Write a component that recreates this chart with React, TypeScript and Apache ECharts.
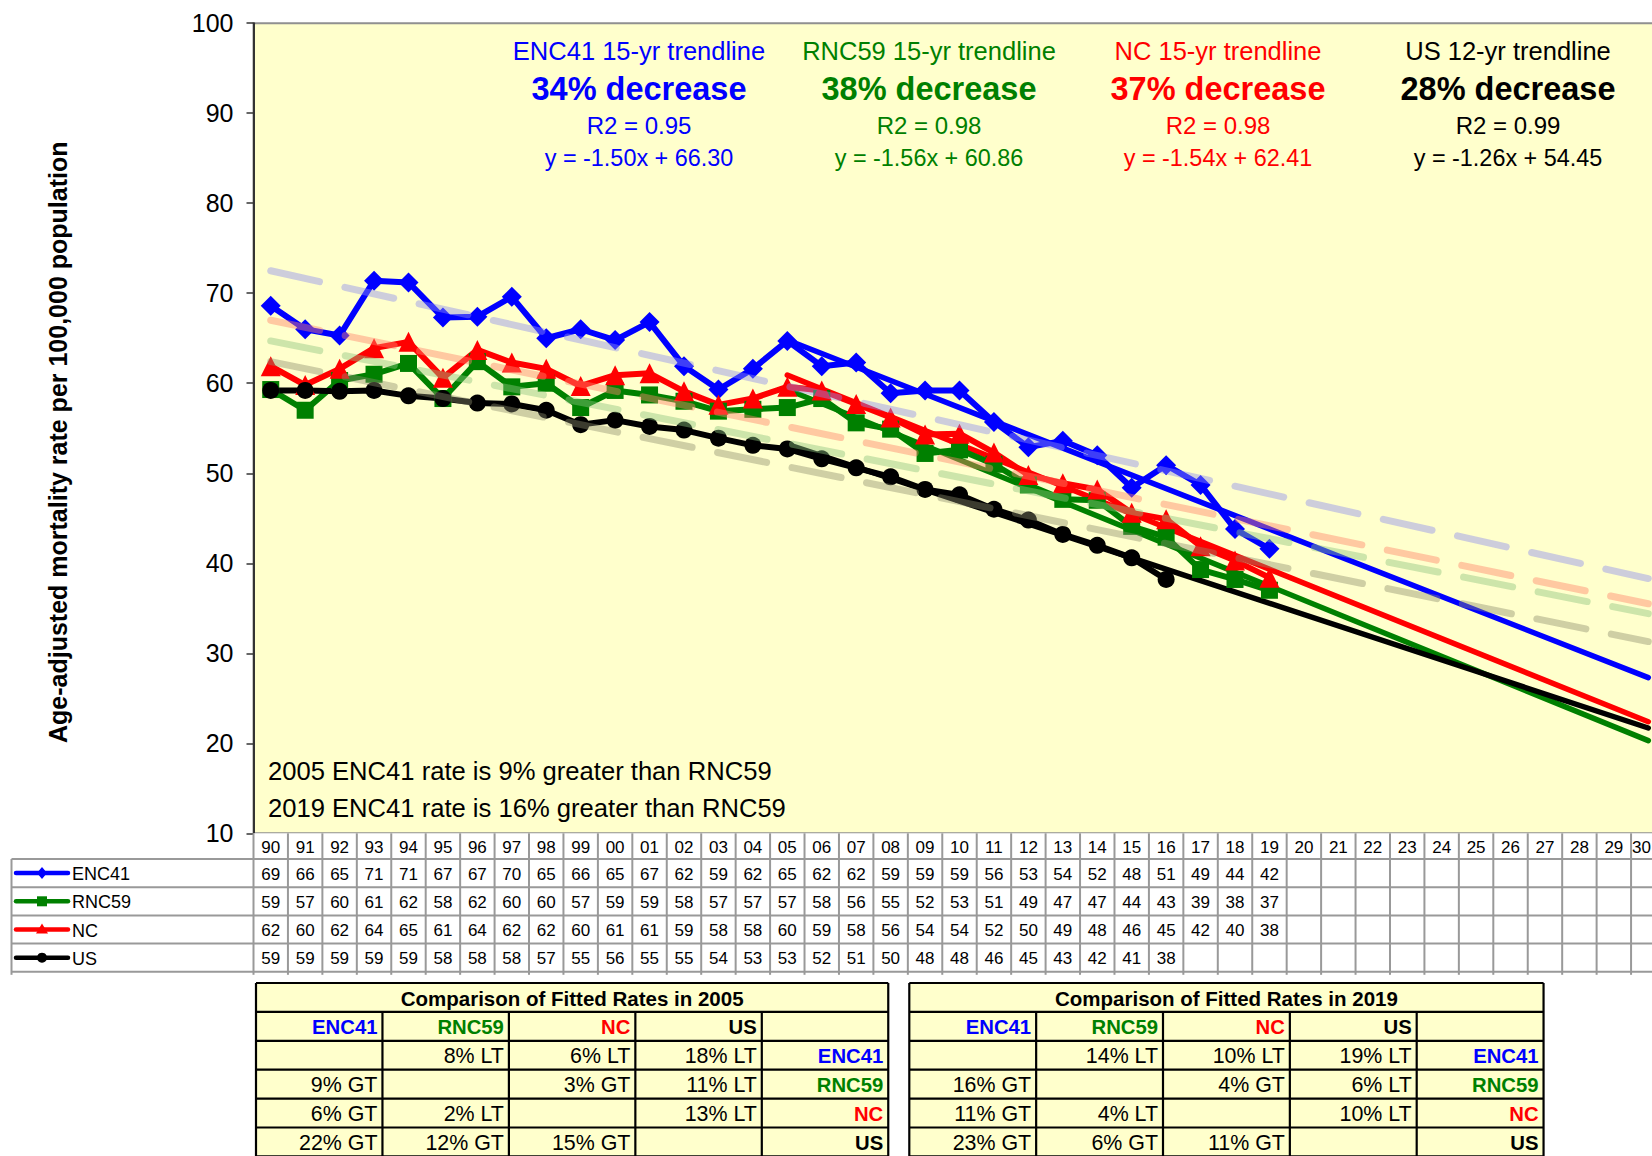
import React, { useEffect, useRef } from 'react';
import * as echarts from 'echarts';

const FONT = "'Liberation Sans', Arial, Helvetica, sans-serif";

// ---- categories (two-digit years 1990..2030) ----
const years = [
  '90','91','92','93','94','95','96','97','98','99',
  '00','01','02','03','04','05','06','07','08','09',
  '10','11','12','13','14','15','16','17','18','19',
  '20','21','22','23','24','25','26','27','28','29','30',
];

// ---- series values (age-adjusted mortality rate) ----
const enc41 = [68.6,66.0,65.3,71.4,71.2,67.3,67.4,69.6,65.0,66.0,64.8,66.8,61.9,59.3,61.6,64.7,61.9,62.3,58.9,59.2,59.2,55.7,52.9,53.6,52.0,48.4,50.9,48.7,43.8,41.6];
const rnc59 = [59.3,57.0,60.3,61.0,62.2,58.3,62.4,59.6,60.0,57.3,59.2,58.7,58.0,56.9,57.1,57.3,58.3,55.6,54.9,52.2,52.6,51.0,48.7,47.1,47.0,44.1,42.9,39.3,38.2,37.0];
const ncVals = [61.9,59.8,61.6,63.9,64.6,60.6,63.7,62.3,61.6,59.7,60.9,61.1,59.1,57.6,58.3,59.6,59.2,57.7,56.2,54.3,54.4,52.3,49.8,48.9,48.2,45.6,44.9,41.9,40.3,38.4];
const usVals = [59.2,59.2,59.1,59.2,58.6,58.3,57.8,57.7,57.0,55.4,55.9,55.2,54.8,53.9,53.1,52.7,51.6,50.6,49.6,48.2,47.6,46.0,44.8,43.2,42.0,40.6,38.2];

// ---- short-term trendlines: [startYear, startValue, endYear, endValue] ----
const enc41Trend = ['05', 64.8, '30', 27.3];
const rnc59Trend = ['05', 59.3, '30', 20.3];
const ncTrend = ['05', 60.9, '30', 22.4];
const usTrend = ['05', 53.2, '30', 21.7];

// ---- long-term dashed trendlines ----
const enc41Long = ['90', 72.5, '30', 38.3];
const rnc59Long = ['90', 64.7, '30', 34.4];
const ncLong = ['90', 67.0, '30', 35.5];
const usLong = ['90', 62.4, '30', 31.3];

// ---- y axis ----
const yMin = 10;
const yMax = 100;
const yStep = 10;

// ---- labels ----
const seriesNames = ['ENC41', 'RNC59', 'NC', 'US'];
const seriesColors = ['#0000FF', '#008000', '#FF0000', '#000000'];
const trendTitles = ['ENC41 15-yr trendline', 'RNC59 15-yr trendline', 'NC 15-yr trendline', 'US 12-yr trendline'];
const trendDecrease = ['34% decrease', '38% decrease', '37% decrease', '28% decrease'];
const trendR2 = ['R2 = 0.95', 'R2 = 0.98', 'R2 = 0.98', 'R2 = 0.99'];
const trendEq = ['y = -1.50x + 66.30', 'y = -1.56x + 60.86', 'y = -1.54x + 62.41', 'y = -1.26x + 54.45'];
const noteLines = ['2005 ENC41 rate is 9% greater than RNC59', '2019 ENC41 rate is 16% greater than RNC59'];
const yTitle = 'Age-adjusted mortality rate per 100,000 population';

const cmpTitle2005 = 'Comparison of Fitted Rates in 2005';
const cmpTitle2019 = 'Comparison of Fitted Rates in 2019';
const cmp2005 = [
  ['', '8% LT', '6% LT', '18% LT'],
  ['9% GT', '', '3% GT', '11% LT'],
  ['6% GT', '2% LT', '', '13% LT'],
  ['22% GT', '12% GT', '15% GT', ''],
];
const cmp2019 = [
  ['', '14% LT', '10% LT', '19% LT'],
  ['16% GT', '', '4% GT', '6% LT'],
  ['11% GT', '4% LT', '', '10% LT'],
  ['23% GT', '6% GT', '11% GT', ''],
];

function pair(t: (string | number)[]) {
  return [
    [years.indexOf(t[0] as string), t[1] as number],
    [years.indexOf(t[2] as string), t[3] as number],
  ];
}

function txt(x: number, y: number, text: string, o: any = {}) {
  const align = o.align || 'left';
  const va = o.va || 'middle';
  return {
    type: 'text',
    x,
    y,
    rotation: o.rotation || 0,
    z: 10,
    style: {
      text,
      fill: o.color || '#000',
      fontSize: o.size || 16,
      fontWeight: o.weight || 'normal',
      fontFamily: FONT,
      align,
      verticalAlign: va,
      textAlign: align,
      textVerticalAlign: va,
    },
  };
}

function ln(x1: number, y1: number, x2: number, y2: number, color: string, w: number) {
  return { type: 'line', z: 5, shape: { x1, y1, x2, y2 }, style: { stroke: color, lineWidth: w } };
}

function buildGraphic(chart: any) {
  const els: any[] = [];
  const xs = years.map((_, i) => chart.convertToPixel({ xAxisIndex: 0 }, i) as number);
  const bw = xs[1] - xs[0];
  const plotLeft = xs[0] - bw / 2;
  const plotRight = xs[xs.length - 1] + bw / 2;
  const plotBottom = chart.convertToPixel({ yAxisIndex: 0 }, yMin) as number;
  const plotTop = chart.convertToPixel({ yAxisIndex: 0 }, yMax) as number;

  // y-axis title
  els.push(txt(58, (plotTop + plotBottom) / 2 + 14, yTitle, { align: 'center', size: 25, weight: 'bold', rotation: Math.PI / 2 }));

  // trend annotations
  const annX = [639, 929, 1218, 1508];
  annX.forEach((x, i) => {
    const c = seriesColors[i];
    els.push(txt(x, 51, trendTitles[i], { align: 'center', size: 25.5, color: c }));
    els.push(txt(x, 89, trendDecrease[i], { align: 'center', size: 32.5, weight: 'bold', color: c }));
    els.push(txt(x, 125.5, trendR2[i], { align: 'center', size: 24, color: c }));
    els.push(txt(x, 158, trendEq[i], { align: 'center', size: 23.4, color: c }));
  });

  // notes
  els.push(txt(268, 771, noteLines[0], { size: 25.6 }));
  els.push(txt(268, 808, noteLines[1], { size: 25.6 }));

  // ---- data table ----
  const gc = '#999999';
  const headH = 25.7;
  const rowH = 28.2;
  const headBottom = plotBottom + headH;
  const tableBottom = headBottom + 4 * rowH;
  const legendLeft = 11.5;
  els.push({ type: 'rect', z: 1, shape: { x: legendLeft, y: headBottom, width: plotLeft - legendLeft, height: 4 * rowH }, style: { fill: '#fff' } });
  els.push({ type: 'rect', z: 1, shape: { x: plotLeft, y: plotBottom, width: plotRight - plotLeft, height: tableBottom - plotBottom }, style: { fill: '#fff' } });
  for (let r = 0; r <= 4; r++) {
    const y = headBottom + r * rowH;
    els.push(ln(legendLeft, y, plotRight, y, gc, 2));
  }
  for (let i = 0; i <= years.length; i++) {
    const x = plotLeft + i * bw;
    els.push(ln(x, plotBottom, x, tableBottom + 3, gc, 2));
  }
  els.push(ln(legendLeft, headBottom, legendLeft, tableBottom + 3, gc, 2));
  years.forEach((y, i) => {
    const last = i === years.length - 1;
    els.push(txt(last ? 1651 : xs[i], plotBottom + headH / 2 + 1, y, { align: last ? 'right' : 'center', size: 17 }));
  });
  const allVals = [enc41, rnc59, ncVals, usVals];
  allVals.forEach((vals, r) => {
    const cy = headBottom + r * rowH + rowH / 2 + 1;
    vals.forEach((v, i) => {
      els.push(txt(xs[i], cy, String(Math.round(v)), { align: 'center', size: 17 }));
    });
    // legend sample
    const c = seriesColors[r];
    const lx1 = 16, lx2 = 68, mx = 42, my = cy - 1;
    els.push({ type: 'line', z: 6, shape: { x1: lx1, y1: my, x2: lx2, y2: my }, style: { stroke: c, lineWidth: 4.5, lineCap: 'round' } });
    if (r === 0) els.push({ type: 'polygon', z: 7, shape: { points: [[mx, my - 6], [mx + 5, my], [mx, my + 6], [mx - 5, my]] }, style: { fill: c } });
    if (r === 1) els.push({ type: 'rect', z: 7, shape: { x: mx - 5, y: my - 5, width: 10, height: 10 }, style: { fill: c } });
    if (r === 2) els.push({ type: 'polygon', z: 7, shape: { points: [[mx, my - 6], [mx + 6, my + 4], [mx - 6, my + 4]] }, style: { fill: c } });
    if (r === 3) els.push({ type: 'circle', z: 7, shape: { cx: mx, cy: my, r: 5 }, style: { fill: c } });
    els.push(txt(72, cy, seriesNames[r], { size: 18 }));
  });

  // ---- comparison tables ----
  const cTop = 983;
  const cRow = 28.9;
  const buildCmp = (x0: number, colW: number, title: string, rows: string[][]) => {
    const w = colW * 5;
    els.push({ type: 'rect', z: 1, shape: { x: x0, y: cTop, width: w, height: cRow * 6 + 4 }, style: { fill: '#FFFFCC' } });
    els.push(txt(x0 + w / 2, cTop + cRow / 2 + 1, title, { align: 'center', size: 20.5, weight: 'bold' }));
    // header row
    for (let c = 0; c < 4; c++) {
      els.push(txt(x0 + (c + 1) * colW - 5, cTop + cRow * 1.5 + 1, seriesNames[c], { align: 'right', size: 20.3, weight: 'bold', color: seriesColors[c] }));
    }
    rows.forEach((row, r) => {
      const cy = cTop + cRow * (r + 2.5) + 1;
      row.forEach((cell, c) => {
        if (cell) els.push(txt(x0 + (c + 1) * colW - 5, cy, cell, { align: 'right', size: 21.4 }));
      });
      els.push(txt(x0 + 5 * colW - 5, cy, seriesNames[r], { align: 'right', size: 20.3, weight: 'bold', color: seriesColors[r] }));
    });
    // borders
    const bc = '#000';
    for (let r = 0; r <= 6; r++) {
      els.push(ln(x0, cTop + r * cRow, x0 + w, cTop + r * cRow, bc, 2.2));
    }
    els.push(ln(x0, cTop, x0, cTop + 6 * cRow + 4, bc, 2.2));
    els.push(ln(x0 + w, cTop, x0 + w, cTop + 6 * cRow + 4, bc, 2.2));
    for (let c = 1; c < 5; c++) {
      els.push(ln(x0 + c * colW, cTop + cRow, x0 + c * colW, cTop + 6 * cRow + 4, bc, 2.2));
    }
  };
  buildCmp(256, 126.45, cmpTitle2005, cmp2005);
  buildCmp(909.3, 126.85, cmpTitle2019, cmp2019);

  return els;
}

function lineSeries(name: string, data: any[], color: string, symbol: string, size: number) {
  return {
    type: 'line',
    name,
    data,
    symbol,
    symbolSize: size,
    showSymbol: true,
    z: 4,
    lineStyle: { color, width: 6, join: 'round' },
    itemStyle: { color },
    silent: true,
  };
}

function trendSeries(data: any[], color: string) {
  return {
    type: 'line',
    data,
    symbol: 'none',
    z: 3,
    lineStyle: { color, width: 5.5, cap: 'round' },
    silent: true,
  };
}

function dashSeries(data: any[], color: string) {
  return {
    type: 'line',
    data,
    symbol: 'none',
    z: 6,
    lineStyle: { color, width: 7, type: [50, 26], cap: 'round' },
    silent: true,
  };
}

export default function App() {
  const ref = useRef<HTMLDivElement>(null);
  useEffect(() => {
    const el = ref.current!;
    const chart = echarts.init(el, null, { renderer: 'svg' });
    const option: any = {
      animation: false,
      backgroundColor: '#ffffff',
      grid: {
        left: 253.5,
        right: -13.5,
        top: 23.2,
        bottom: 1156 - 833.3,
        show: true,
        backgroundColor: '#FFFFCC',
        borderColor: '#909090',
        borderWidth: 2,
        containLabel: false,
        outerBoundsMode: 'none',
      },
      xAxis: {
        type: 'category',
        data: years,
        boundaryGap: true,
        axisLine: { show: false },
        axisTick: { show: false },
        axisLabel: { show: false },
        splitLine: { show: false },
      },
      yAxis: {
        type: 'value',
        min: yMin,
        max: yMax,
        interval: yStep,
        axisLine: { show: true, lineStyle: { color: '#333', width: 2 } },
        axisTick: { show: true, length: 7, lineStyle: { color: '#333', width: 1.5 } },
        axisLabel: { fontSize: 25, color: '#000', margin: 20, fontFamily: FONT },
        splitLine: { show: false },
      },
      series: [
        trendSeries(pair(enc41Trend), seriesColors[0]),
        trendSeries(pair(rnc59Trend), seriesColors[1]),
        trendSeries(pair(ncTrend), seriesColors[2]),
        trendSeries(pair(usTrend), seriesColors[3]),
        lineSeries('ENC41', enc41, seriesColors[0], 'diamond', 20),
        lineSeries('RNC59', rnc59, seriesColors[1], 'rect', 17),
        lineSeries('NC', ncVals, seriesColors[2], 'triangle', 20),
        lineSeries('US', usVals, seriesColors[3], 'circle', 17),
        dashSeries(pair(enc41Long), 'rgba(142,142,240,0.44)'),
        dashSeries(pair(ncLong), 'rgba(255,133,106,0.44)'),
        dashSeries(pair(rnc59Long), 'rgba(142,195,128,0.44)'),
        dashSeries(pair(usLong), 'rgba(140,140,110,0.42)'),
      ],
    };
    chart.setOption(option);
    chart.setOption({ graphic: buildGraphic(chart) });
    return () => chart.dispose();
  }, []);
  return (
    <div
      ref={ref}
      style={{ position: 'fixed', left: 0, top: 0, width: 1652, height: 1156, background: '#fff' }}
    />
  );
}
